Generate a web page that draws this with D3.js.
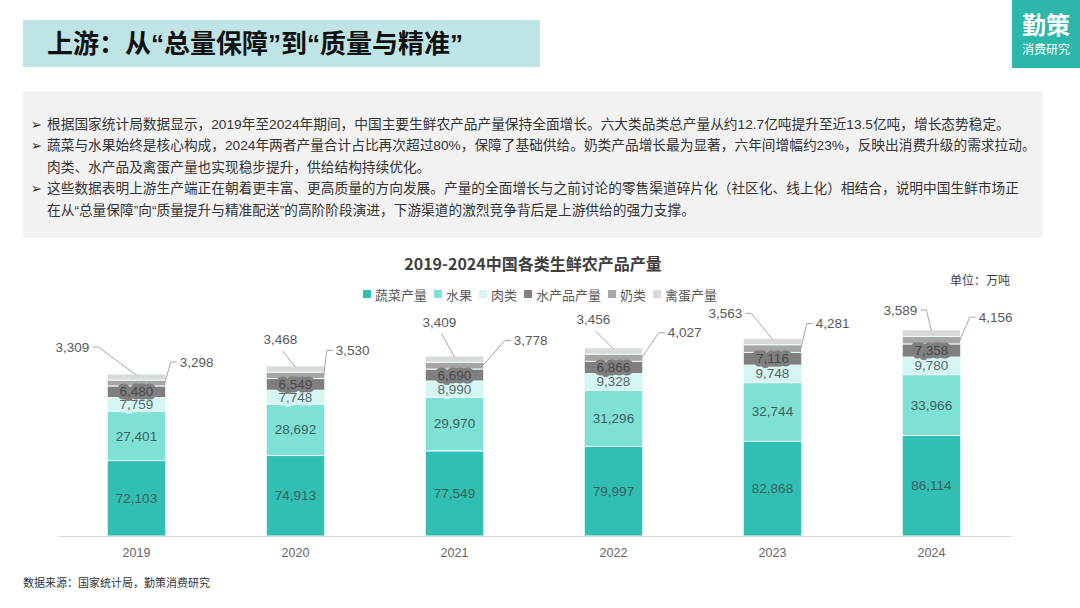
<!DOCTYPE html>
<html><head><meta charset="utf-8">
<script src="https://cdn.jsdelivr.net/npm/d3@7/dist/d3.min.js"></script>
<style>
html,body{margin:0;padding:0;background:#fff;}
svg{display:block;}
</style></head>
<body>
<svg id="c" width="1080" height="608"></svg>
<script>
// ---------- data ----------
const years = ["2019","2020","2021","2022","2023","2024"];
const seriesNames = ["蔬菜产量","水果","肉类","水产品产量","奶类","禽蛋产量"];
const vegetables = [72103, 74913, 77549, 79997, 82868, 86114];
const fruits     = [27401, 28692, 29970, 31296, 32744, 33966];
const meat       = [7759, 7748, 8990, 9328, 9748, 9780];
const aquatic    = [6480, 6549, 6690, 6866, 7116, 7358];
const milk       = [3298, 3530, 3778, 4027, 4281, 4156];
const eggs       = [3309, 3468, 3409, 3456, 3563, 3589];
const yDomain = [30000, 150000];

const pageTitle = "上游：从“总量保障”到“质量与精准”";
const chartTitle = "2019-2024中国各类生鲜农产品产量";
const unitText = "单位：万吨";
const sourceText = "数据来源：国家统计局，勤策消费研究";
const bodyLines = [
  {b:true,  t:"根据国家统计局数据显示，2019年至2024年期间，中国主要生鲜农产品产量保持全面增长。六大类品类总产量从约12.7亿吨提升至近13.5亿吨，增长态势稳定。"},
  {b:true,  t:"蔬菜与水果始终是核心构成，2024年两者产量合计占比再次超过80%，保障了基础供给。奶类产品增长最为显著，六年间增幅约23%，反映出消费升级的需求拉动。"},
  {b:false, t:"肉类、水产品及禽蛋产量也实现稳步提升，供给结构持续优化。"},
  {b:true,  t:"这些数据表明上游生产端正在朝着更丰富、更高质量的方向发展。产量的全面增长与之前讨论的零售渠道碎片化（社区化、线上化）相结合，说明中国生鲜市场正"},
  {b:false, t:"在从“总量保障”向“质量提升与精准配送”的高阶阶段演进，下游渠道的激烈竞争背后是上游供给的强力支撑。"}
];

// ---------- styles / layout ----------
const colors = ["#30bfb2","#7fe0d5","#d4f5f1","#7f7f7f","#a6a6a6","#d9d9d9"];
const cjk = "'Noto Sans CJK SC','Noto Sans',sans-serif";
const mixed = "'Liberation Sans','Noto Sans CJK SC',sans-serif";
const num = "'Liberation Sans',Arial,sans-serif";
// outside label placement (offsets from anchors), layout only
const eggLabelPos  = [[-64,-27,"side"],[-15,-26,"below"],[-15,-34,"below"],[-20,-28,"below"],[-47,-25,"side"],[-31,-20,"side"]];
const milkLabelPos = [[14,-21],[11,-25],[30,-25],[25,-25],[14,-25],[18,-23]];

const svg = d3.select("#c");

// header
svg.append("rect").attr("x",23).attr("y",20).attr("width",517).attr("height",47).attr("fill","#bfe4e5");
svg.append("text").attr("x",47).attr("y",44).attr("dominant-baseline","central")
  .attr("font-family",mixed).attr("font-weight","bold").attr("font-size",26).attr("fill","#111")
  .text(pageTitle);
svg.append("rect").attr("x",1012).attr("y",0).attr("width",68).attr("height",68).attr("fill","#2db6aa");
svg.append("text").attr("x",1046).attr("y",23).attr("text-anchor","middle").attr("dominant-baseline","central")
  .attr("font-family",cjk).attr("font-weight","bold").attr("font-size",24).attr("fill","#fff").text("勤策");
svg.append("text").attr("x",1046).attr("y",48).attr("text-anchor","middle").attr("dominant-baseline","central")
  .attr("font-family",cjk).attr("font-size",12).attr("fill","#fff").text("消费研究");

// body panel
svg.append("rect").attr("x",23).attr("y",91).attr("width",1020).attr("height",147).attr("fill","#f2f2f2");
const lineY = [124,145,167,188,210];
bodyLines.forEach((l,i)=>{
  if(l.b){
    svg.append("text").attr("x",31).attr("y",lineY[i]).attr("dominant-baseline","central")
      .attr("font-family","'DejaVu Sans',sans-serif").attr("font-size",13).attr("fill","#222").text("➢");
  }
  svg.append("text").attr("x",47).attr("y",lineY[i]).attr("dominant-baseline","central")
    .attr("font-family",mixed).attr("font-size",13.7).attr("fill","#333").text(l.t);
});

// chart title, unit, legend
svg.append("text").attr("x",533).attr("y",263).attr("text-anchor","middle").attr("dominant-baseline","central")
  .attr("font-family",cjk).attr("font-weight","bold").attr("font-size",16).attr("fill","#404040").text(chartTitle);
svg.append("text").attr("x",1010).attr("y",279).attr("text-anchor","end").attr("dominant-baseline","central")
  .attr("font-family",cjk).attr("font-size",12).attr("fill","#404040").text(unitText);

const legend = svg.append("g");
let lx = 363;
seriesNames.forEach((n,i)=>{
  legend.append("rect").attr("x",lx).attr("y",290).attr("width",8).attr("height",8).attr("fill",colors[i]);
  const t = legend.append("text").attr("x",lx+12).attr("y",294).attr("dominant-baseline","central")
    .attr("font-family",cjk).attr("font-size",13).attr("fill","#595959").text(n);
  lx += 12 + t.node().getComputedTextLength() + 7;
});

// scales
const x = d3.scaleBand().domain(years).range([57,1011]).padding(0);
const y = d3.scaleLinear().domain(yDomain).range([536,321]);
const barW = x.bandwidth()*0.368;

const seriesVals = [vegetables, fruits, meat, aquatic, milk, eggs];
const table = years.map((yr,i)=>{
  const o = {year:yr};
  seriesNames.forEach((n,k)=>o[n]=seriesVals[k][i]);
  return o;
});
const stacked = d3.stack().keys(seriesNames)(table);

const bars = svg.append("g");
stacked.forEach((layer,k)=>{
  bars.selectAll(null).data(layer).enter().append("rect")
    .attr("x",d=>x(d.data.year)+x.bandwidth()/2-barW/2)
    .attr("width",barW)
    .attr("y",d=>y(d[1]))
    .attr("height",d=>Math.max(0,y(Math.max(d[0],yDomain[0]))-y(d[1])))
    .attr("fill",colors[k])
    .attr("stroke","#effcfa").attr("stroke-width",1);
});

// axis
const xAxis = svg.append("g").attr("transform","translate(0,536)").call(d3.axisBottom(x).tickSize(0).tickPadding(12));
xAxis.select(".domain").attr("stroke","#d9d9d9").attr("stroke-width",1.2);
xAxis.selectAll("text").attr("font-family",num).attr("font-size",12.5).attr("fill","#666");

const fmt = d3.format(",");
// inside labels (first four series)
const inLab = svg.append("g");
[0,1,2,3].forEach(k=>{
  stacked[k].forEach(d=>{
    const cy = (y(Math.max(d[0],yDomain[0]))+y(d[1]))/2;
    inLab.append("text").attr("x",x(d.data.year)+x.bandwidth()/2).attr("y",cy)
      .attr("text-anchor","middle").attr("dominant-baseline","central")
      .attr("font-family",num).attr("font-size",13.5)
      .attr("fill", k===3 ? "#4a4a4a" : (k===2 ? "#5a6666" : "#3a625e"))
      .attr("stroke",colors[k]).attr("stroke-width",7).attr("stroke-linejoin","round")
      .attr("paint-order","stroke")
      .text(fmt(d.data[seriesNames[k]]));
  });
});

// outside labels with leader lines
const outLab = svg.append("g");
const lineCol = "#a6a6a6";
stacked[5].forEach((d,i)=>{
  const cx = x(d.data.year)+x.bandwidth()/2;
  const top = y(d[1]);
  const [dx,dy,mode] = eggLabelPos[i];
  const lxp = cx+dx, lyp = top+dy;
  const t = outLab.append("text").attr("x",lxp).attr("y",lyp).attr("text-anchor","middle").attr("dominant-baseline","central")
    .attr("font-family",num).attr("font-size",13.5).attr("fill","#595959").text(fmt(d.data[seriesNames[5]]));
  const w = t.node().getComputedTextLength();
  let pts;
  if(mode==="side"){
    const sx = lxp+w/2+3;
    pts = [[sx,lyp],[sx+6,lyp],[cx,top+1]];
  } else {
    pts = [[lxp+2,lyp+11],[cx,top+1]];
  }
  outLab.append("path").attr("d",d3.line()(pts)).attr("fill","none").attr("stroke",lineCol).attr("stroke-width",1);
});
stacked[4].forEach((d,i)=>{
  const right = x(d.data.year)+x.bandwidth()/2+barW/2;
  const cy = (y(d[0])+y(d[1]))/2;
  const [dx,dy] = milkLabelPos[i];
  const sx = right+dx, sy = cy+dy;
  outLab.append("text").attr("x",sx).attr("y",sy).attr("dominant-baseline","central")
    .attr("font-family",num).attr("font-size",13.5).attr("fill","#595959").text(fmt(d.data[seriesNames[4]]));
  outLab.append("path").attr("d",d3.line()([[sx-3,sy],[sx-9,sy],[right-1,cy]]))
    .attr("fill","none").attr("stroke",lineCol).attr("stroke-width",1);
});

// source
svg.append("text").attr("x",23).attr("y",582).attr("dominant-baseline","central")
  .attr("font-family",cjk).attr("font-size",11).attr("fill","#333").text(sourceText);
</script>
</body></html>
